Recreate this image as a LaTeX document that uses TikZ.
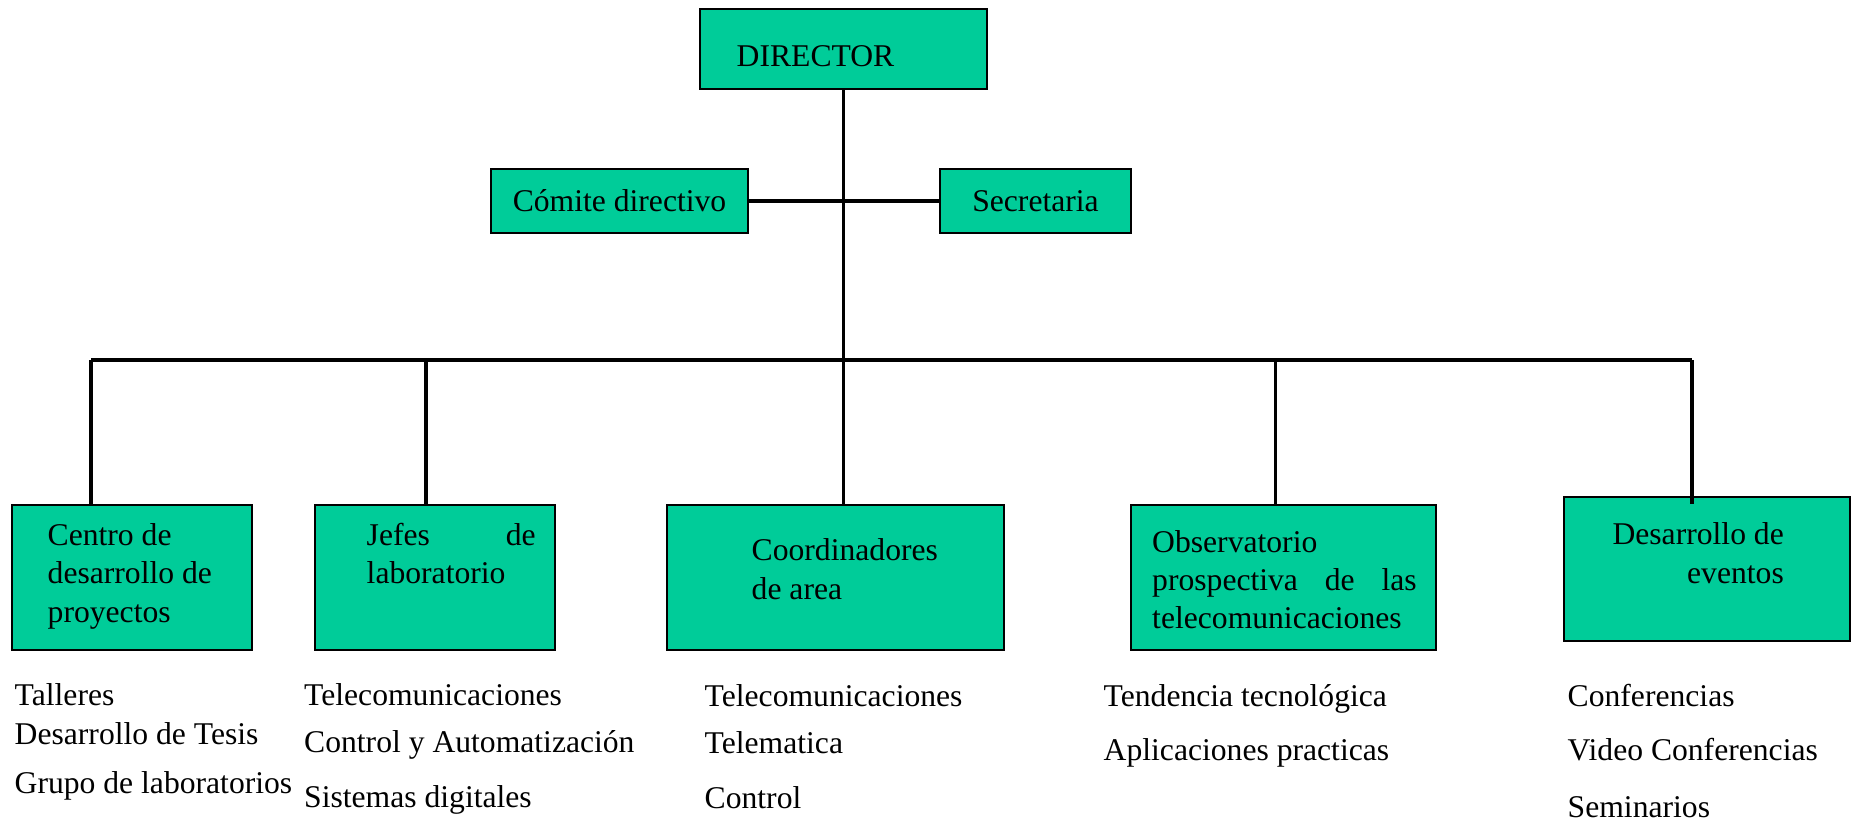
\documentclass[tikz,border=0pt]{standalone}
\usepackage{fontspec}
\setmainfont{Liberation Serif}
\usepackage{xcolor}
\definecolor{verde}{RGB}{0,204,153}

\begin{document}
\begin{tikzpicture}[x=0.1mm, y=-0.1mm,
					font=\fontsize{9}{10.9}\selectfont,
					caja/.style={draw, fill=verde, line width=0.8pt, inner sep=0pt},
					texto/.style={anchor=base west, inner sep=0pt, align=left},
					lista/.style={anchor=base west, inner sep=0pt, align=left}]
    \useasboundingbox (0,0) rectangle (1852,822);
    % Place nodes
    \node [caja, minimum width=28.7mm, minimum height=8mm] (dir) at (843.5,49){};
    \node [texto] (dirT) at (736,66){DIRECTOR};
    \node [caja, minimum width=25.7mm, minimum height=6.4mm] (com) at (619.5,201){Cómite directivo};
    \node [caja, minimum width=19.1mm, minimum height=6.4mm] (sec) at (1035.5,201){Secretaria};

    \node [caja, minimum width=24mm, minimum height=14.5mm] (cdp) at (132,577.5){};
    \node [caja, minimum width=24mm, minimum height=14.5mm] (jef) at (435,577.5){};
    \node [caja, minimum width=33.7mm, minimum height=14.5mm] (coo) at (835.5,577.5){};
    \node [caja, minimum width=30.5mm, minimum height=14.5mm] (obs) at (1283.5,577.5){};
    \node [caja, minimum width=28.6mm, minimum height=14.4mm] (eve) at (1707,569){};

    % texts sit on the baseline of their last line (first line with text width)
    \node [texto] (cdpT) at (47,622){Centro de\\desarrollo de\\proyectos};
    \node [texto, text width=16.9mm] (jefT) at (366,545){Jefes\hfill de\\laboratorio};
    \node [texto] (cooT) at (751,599){Coordinadores\\de area};
    \node [texto, text width=26.45mm] (obsT) at (1151.5,552){Observatorio\\prospectiva\hfill de\hfill las\\telecomunicaciones};
    \node [texto, anchor=base east, align=right] (eveT) at (1784.5,583){Desarrollo de\\eventos};

    \node [lista] (l1) at (14,793){Talleres\\[0.2pt]Desarrollo de Tesis\\[2.8pt]Grupo de laboratorios};
    \node [lista] (l2) at (303.5,807){Telecomunicaciones\\[2.5pt]Control y Automatización\\[4.5pt]Sistemas digitales};
    \node [lista] (l3) at (704,808){Telecomunicaciones\\[2.5pt]Telematica\\[4.7pt]Control};
    \node [lista] (l4) at (1103,760){Tendencia tecnológica\\[4.4pt]Aplicaciones practicas};
    \node [lista] (l5) at (1567,817){Conferencias\\[4.4pt]Video Conferencias\\[5.3pt]Seminarios};

    \coordinate (b1) at (91,360);
    \coordinate (b2) at (426,360);
    \coordinate (b4) at (1275.5,360);
    \coordinate (b5) at (1692,360);

    % Draw edges
    \draw[line width=1pt] (dir.south) -- (dir.south |- coo.north);
    \draw[line width=1pt] (com) -- (sec);
    \draw[line width=1pt] (b1) -- (b5);
    \draw[line width=1pt] (b1) -- (b1 |- cdp.north);
    \draw[line width=1pt] (b2) -- (b2 |- jef.north);
    \draw[line width=1pt] (b4) -- (b4 |- obs.north);
    \draw[line width=1pt] (b5) -- ([yshift=-0.8mm]b5 |- eve.north);

\end{tikzpicture}
\end{document}
